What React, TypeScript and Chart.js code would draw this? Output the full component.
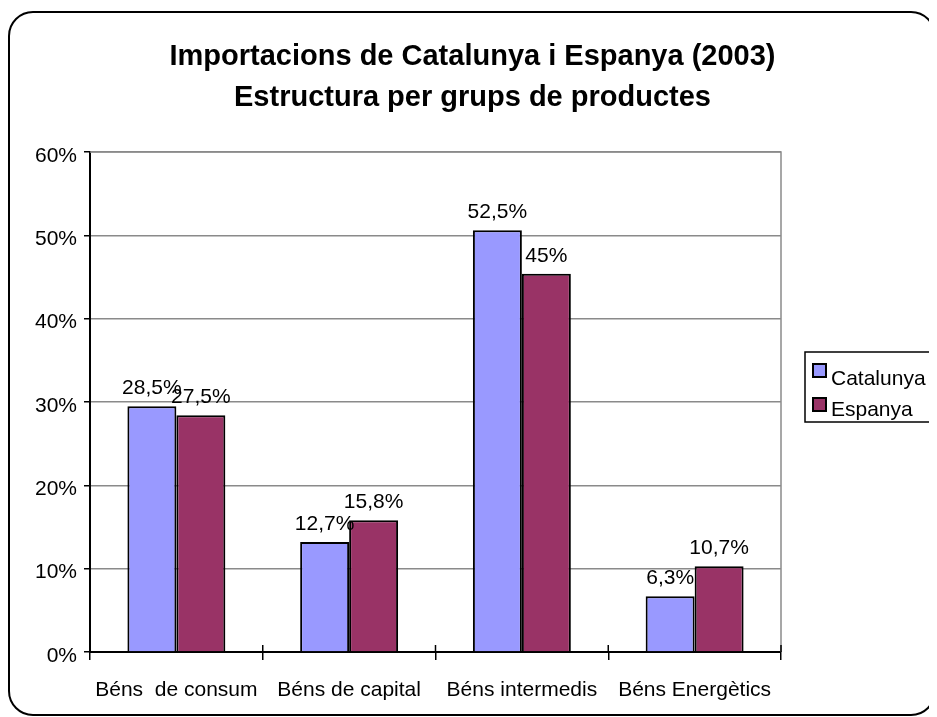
import React, { useEffect, useRef } from "react";
import { Chart, registerables } from "chart.js";

Chart.register(...registerables);

const categories = ["Béns  de consum", "Béns de capital", "Béns intermedis", "Béns Energètics"];
const seriesNames = ["Catalunya", "Espanya"];
const catalunyaValues = [29.5, 13.2, 50.6, 6.7];
const espanyaValues = [28.4, 15.8, 45.4, 10.3];
const catalunyaLabels = ["28,5%", "12,7%", "52,5%", "6,3%"];
const espanyaLabels = ["27,5%", "15,8%", "45%", "10,7%"];
const titleLines = ["Importacions de Catalunya i Espanya (2003)", "Estructura per grups de productes"];
const yTicks = [0, 10, 20, 30, 40, 50, 60];

const FONT = "'Liberation Sans', Arial, sans-serif";

export default function App() {
  const ref = useRef<HTMLCanvasElement | null>(null);

  useEffect(() => {
    document.documentElement.style.overflow = "hidden";
    const canvas = ref.current;
    if (!canvas) return;
    const valueLabels = [catalunyaLabels, espanyaLabels];

    const framePlugin = {
      id: "frame",
      beforeDraw(chart: any) {
        const ctx = chart.ctx;
        ctx.save();
        ctx.fillStyle = "#fff";
        ctx.fillRect(0, 0, chart.width, chart.height);
        ctx.strokeStyle = "#000";
        ctx.lineWidth = 2;
        const x = 1, y = 4, w = 926, h = 703, r = 24;
        ctx.beginPath();
        ctx.moveTo(x + r, y);
        ctx.lineTo(x + w - r, y);
        ctx.arcTo(x + w, y, x + w, y + r, r);
        ctx.lineTo(x + w, y + h - r);
        ctx.arcTo(x + w, y + h, x + w - r, y + h, r);
        ctx.lineTo(x + r, y + h);
        ctx.arcTo(x, y + h, x, y + h - r, r);
        ctx.lineTo(x, y + r);
        ctx.arcTo(x, y, x + r, y, r);
        ctx.closePath();
        ctx.stroke();
        ctx.restore();
      },
      beforeDatasetsDraw(chart: any) {
        const ctx = chart.ctx;
        const a = chart.chartArea;
        ctx.save();
        ctx.strokeStyle = "#8a8a8a";
        ctx.lineWidth = 1.5;
        ctx.beginPath();
        ctx.moveTo(a.left, a.top);
        ctx.lineTo(a.right, a.top);
        ctx.lineTo(a.right, a.bottom);
        ctx.stroke();
        // upper part of crossing x-axis tick marks
        const xs = chart.scales.x;
        ctx.strokeStyle = "#000";
        ctx.lineWidth = 1.5;
        const n = categories.length;
        for (let i = 0; i <= n; i++) {
          const px = xs.left + ((xs.right - xs.left) * i) / n;
          ctx.beginPath();
          ctx.moveTo(px, a.bottom - 7);
          ctx.lineTo(px, a.bottom);
          ctx.stroke();
        }
        ctx.restore();
      },
      afterDatasetsDraw(chart: any) {
        const ctx = chart.ctx;
        ctx.save();
        ctx.font = `21px ${FONT}`;
        ctx.fillStyle = "#000";
        ctx.textAlign = "center";
        ctx.textBaseline = "alphabetic";
        chart.data.datasets.forEach((ds: any, di: number) => {
          const meta = chart.getDatasetMeta(di);
          meta.data.forEach((el: any, i: number) => {
            ctx.fillText(valueLabels[di][i], el.x, el.y - 12);
          });
        });
        ctx.restore();
      },
      afterDraw(chart: any) {
        const ctx = chart.ctx;
        ctx.save();
        // title
        ctx.fillStyle = "#000";
        ctx.font = `bold 29px ${FONT}`;
        ctx.textAlign = "center";
        ctx.textBaseline = "middle";
        ctx.fillText(titleLines[0], chart.width / 2, 49);
        ctx.fillText(titleLines[1], chart.width / 2, 90);
        // legend
        ctx.lineWidth = 1.5;
        ctx.strokeStyle = "#000";
        ctx.strokeRect(797, 344, 131, 70);
        ctx.font = `21px ${FONT}`;
        ctx.textAlign = "left";
        ctx.textBaseline = "alphabetic";
        const rows = [{ sq: 356, base: 377 }, { sq: 390, base: 408 }];
        chart.data.datasets.forEach((ds: any, i: number) => {
          const r = rows[i];
          ctx.fillStyle = ds.backgroundColor;
          ctx.fillRect(805, r.sq, 13, 13);
          ctx.lineWidth = 2;
          ctx.strokeRect(805, r.sq, 13, 13);
          ctx.fillStyle = "#000";
          ctx.fillText(ds.label, 823, r.base);
        });
        ctx.restore();
      },
    };

    const chart = new Chart(canvas, {
      type: "bar",
      data: {
        labels: categories,
        datasets: [
          {
            label: seriesNames[0],
            data: catalunyaValues,
            backgroundColor: "#9999FF",
            borderColor: "#000",
            borderWidth: 2,
            categoryPercentage: 0.567,
            barPercentage: 1.0,
          },
          {
            label: seriesNames[1],
            data: espanyaValues,
            backgroundColor: "#993366",
            borderColor: "#000",
            borderWidth: 2,
            categoryPercentage: 0.567,
            barPercentage: 1.0,
          },
        ],
      },
      options: {
        animation: false,
        responsive: true,
        maintainAspectRatio: false,
        layout: { padding: { top: 144, right: 156, bottom: 0, left: 0 } },
        plugins: {
          legend: { display: false },
          title: { display: false },
          tooltip: { enabled: false },
        },
        scales: {
          x: {
            afterFit(scale: any) {
              scale.height = 65;
            },
            grid: {
              display: true,
              drawOnChartArea: false,
              drawTicks: true,
              tickLength: 8,
              color: "#000",
              lineWidth: 1.5,
              offset: true,
            },
            border: { display: true, color: "#000", width: 2 },
            ticks: {
              font: { size: 21, family: FONT },
              color: "#000",
              padding: 18,
              maxRotation: 0,
              autoSkip: false,
            },
          },
          y: {
            min: 0,
            max: 60,
            afterFit(scale: any) {
              scale.width = 82;
            },
            afterBuildTicks(scale: any) {
              scale.ticks = yTicks.map((v) => ({ value: v }));
            },
            grid: {
              color: "#8a8a8a",
              lineWidth: 1.5,
              drawTicks: true,
              tickLength: 6,
              tickColor: "#000",
            },
            border: { display: true, color: "#000", width: 2 },
            ticks: {
              font: { size: 21, family: FONT },
              color: "#000",
              padding: 7,
              labelOffset: 4,
              callback: (v: any) => `${v}%`,
            },
          },
        },
      },
      plugins: [framePlugin],
    });

    return () => chart.destroy();
  }, []);

  return (
    <div style={{ width: 929, height: 709, position: "relative" }}>
      <canvas ref={ref} />
    </div>
  );
}
